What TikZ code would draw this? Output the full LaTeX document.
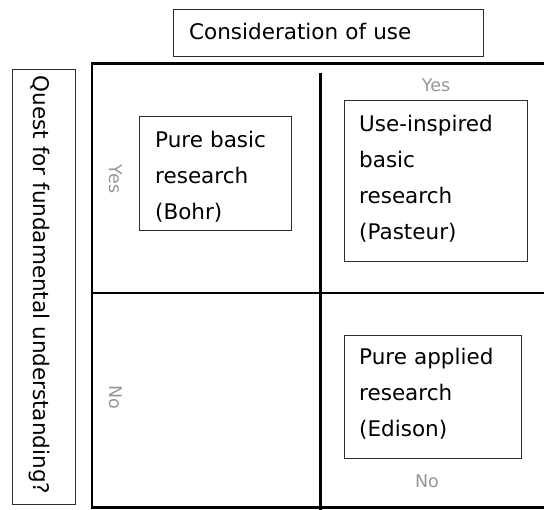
\documentclass[tikz,border=0pt]{standalone}
\usepackage{fontspec}
\setmainfont{DejaVu Sans}
\definecolor{axisgray}{RGB}{150,150,150}
\definecolor{boxline}{RGB}{45,45,45}
\begin{document}
\begin{tikzpicture}[x=1pt,y=-1pt,
  frame/.style={draw=black,line width=2.6pt},
  cellbox/.style={draw=boxline,line width=1pt,rectangle,inner sep=0pt,anchor=north west},
  body/.style={font=\fontsize{21.5}{35.8}\selectfont,inner sep=0pt,align=left,text width=200pt,anchor=base west},
  axislabel/.style={font=\fontsize{17.5}{20}\selectfont,text=axisgray,inner sep=0pt,anchor=base}]
  % page area
  \clip (0,0) rectangle (544,510);

  % heading boxes
  \node[cellbox,minimum width=310pt,minimum height=46.4pt] (usebox) at (173,9.3) {};
  \node[body,text width=290pt] (usetext) at (189,40) {Consideration of use};
  \node[cellbox,minimum width=63pt,minimum height=435pt] (questbox) at (12.3,69) {};
  \node[font=\fontsize{21.5}{25}\selectfont,inner sep=0pt,rotate=-90,anchor=base] (questtext) at (33,285) {Quest for fundamental understanding?};

  % quadrant frame and dividers
  \draw[frame] (92,63.3) rectangle (560,507.3);
  \coordinate (vtop) at (320.7,73);
  \coordinate (vbot) at (320.7,520);
  \coordinate (hleft) at (92,293);
  \coordinate (hright) at (560,293);
  \draw[frame] (vtop) -- (vbot);
  \draw[frame] (hleft) -- (hright);

  % quadrant entries
  \node[cellbox,minimum width=152pt,minimum height=114pt] (bohr) at (139,116) {};
  \node[body] (bohrtext) at (155,148) {Pure basic\\research\\(Bohr)};
  \node[cellbox,minimum width=182.5pt,minimum height=160.5pt] (pasteur) at (344,100.5) {};
  \node[body] (pasteurtext) at (359,132) {Use-inspired\\basic\\research\\(Pasteur)};
  \node[cellbox,minimum width=176.7pt,minimum height=123.3pt] (edison) at (344,335) {};
  \node[body] (edisontext) at (359,365) {Pure applied\\research\\(Edison)};

  % axis values
  \node[axislabel] (yestop) at (436,92) {Yes};
  \node[axislabel] (nobottom) at (427,488) {No};
  \node[axislabel,rotate=-90] (yesleft) at (109,179) {Yes};
  \node[axislabel,rotate=-90] (noleft) at (109,397) {No};
\end{tikzpicture}
\end{document}
